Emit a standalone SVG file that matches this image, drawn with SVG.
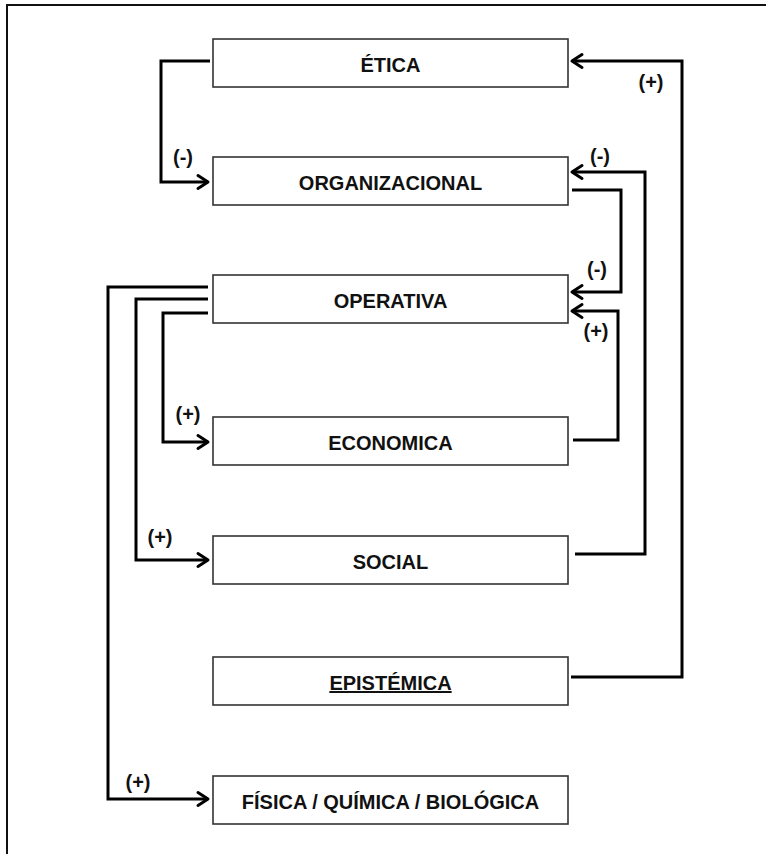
<svg xmlns="http://www.w3.org/2000/svg" width="766" height="854" viewBox="0 0 766 854">
<defs>
<style>
.box{fill:#fff;stroke:#333;stroke-width:1.6}
.lbl{font-family:"Liberation Sans",Arial,sans-serif;font-weight:bold;font-size:20px;fill:#111;text-anchor:middle}
.con{fill:none;stroke:#000;stroke-width:3;stroke-linejoin:miter}
</style>
<marker id="arr" markerUnits="userSpaceOnUse" markerWidth="20" markerHeight="20" viewBox="-14 -10 20 20" refX="0" refY="0" orient="auto">
<path d="M-10,-6.5 L0,0 L-10,6.5" fill="none" stroke="#000" stroke-width="3" stroke-linejoin="round" stroke-linecap="round"/>
</marker>
</defs>
<rect width="766" height="854" fill="#fff"/>
<path d="M7,854 V5 H766" fill="none" stroke="#111" stroke-width="2"/>

<g id="connectors">
<path class="con" d="M210,61 H161 V182 H208" marker-end="url(#arr)"/>
<path class="con" d="M571,677 H682 V61 H572" marker-end="url(#arr)"/>
<path class="con" d="M575,554 H645 V172 H572" marker-end="url(#arr)"/>
<path class="con" d="M572,190 H621 V292 H572" marker-end="url(#arr)"/>
<path class="con" d="M573,440 H618 V311 H572" marker-end="url(#arr)"/>
<path class="con" d="M208,313 H163 V442 H208" marker-end="url(#arr)"/>
<path class="con" d="M208,299 H136 V560 H208" marker-end="url(#arr)"/>
<path class="con" d="M208,287 H108 V799 H208" marker-end="url(#arr)"/>
<text class="lbl" x="183" y="164">(-)</text>
<text class="lbl" x="651" y="89">(+)</text>
<text class="lbl" x="600" y="163">(-)</text>
<text class="lbl" x="597" y="276">(-)</text>
<text class="lbl" x="596" y="338">(+)</text>
<text class="lbl" x="188" y="421">(+)</text>
<text class="lbl" x="160" y="544">(+)</text>
<text class="lbl" x="138" y="789">(+)</text>
</g>

<g id="etica"><rect class="box" x="213" y="39" width="355" height="48"/><text class="lbl" x="390.5" y="72">ÉTICA</text></g>
<g id="organizacional"><rect class="box" x="213" y="157" width="355" height="48"/><text class="lbl" x="390.5" y="190">ORGANIZACIONAL</text></g>
<g id="operativa"><rect class="box" x="213" y="275" width="355" height="48"/><text class="lbl" x="390.5" y="308">OPERATIVA</text></g>
<g id="economica"><rect class="box" x="213" y="417" width="355" height="48"/><text class="lbl" x="390.5" y="450">ECONOMICA</text></g>
<g id="social"><rect class="box" x="213" y="536" width="355" height="48"/><text class="lbl" x="390.5" y="569">SOCIAL</text></g>
<g id="epistemica"><rect class="box" x="213" y="657" width="355" height="48"/><text class="lbl" x="390.5" y="690" text-decoration="underline">EPISTÉMICA</text></g>
<g id="fisica"><rect class="box" x="213" y="776" width="355" height="48"/><text class="lbl" x="390.5" y="809">FÍSICA / QUÍMICA / BIOLÓGICA</text></g>
</svg>
